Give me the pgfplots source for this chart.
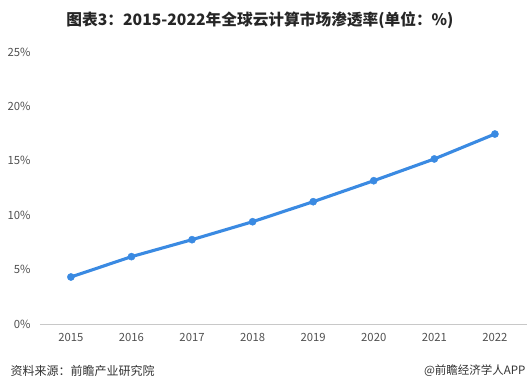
\documentclass[border=0pt]{standalone}
\usepackage{fontspec}
\usepackage{pgfplots}
\pgfplotsset{compat=1.18}
\setmainfont{Noto Sans CJK SC}
\definecolor{lineblue}{RGB}{58,138,226}
\definecolor{ticktext}{RGB}{80,80,80}
\definecolor{axisgray}{RGB}{200,200,200}
\begin{document}
\begin{tikzpicture}
\path[use as bounding box] (0pt,0pt) rectangle (532pt,390pt);
\begin{axis}[
  at={(40pt,66pt)}, anchor=south west,
  scale only axis, width=487pt, height=272pt,
  xmin=-0.51, xmax=7.53, ymin=0, ymax=25,
  axis x line*=bottom, axis y line*=left,
  x axis line style={axisgray, line width=0.8pt, -},
  y axis line style={draw=none},
  xtick={0,...,7},
  xticklabels={2015,2016,2017,2018,2019,2020,2021,2022},
  major tick length=0pt,
  ytick={0,5,10,15,20,25},
  yticklabels={0\%,5\%,10\%,15\%,20\%,25\%},
  tick label style={font=\fontsize{11.3}{13}\selectfont, text=ticktext},
  xticklabel style={yshift=-6pt},
  yticklabel style={xshift=-6pt},
  clip=false,
]
\addplot[lineblue, line width=3.1pt, mark=*, mark size=3.6pt, mark options={fill=lineblue, draw=lineblue, line width=0.4pt}]
coordinates {(0,4.32) (1,6.19) (2,7.75) (3,9.40) (4,11.24) (5,13.17) (6,15.17) (7,17.46)};
\end{axis}
\node[font=\fontsize{15.7}{18}\selectfont\bfseries, text=black!85] at (260pt,370pt) {图表3：2015-2022年全球云计算市场渗透率(单位：\%)};
\node[anchor=west, font=\fontsize{12}{14}\selectfont, text=black!80] at (7pt,19pt) {资料来源：前瞻产业研究院};
\node[anchor=east, font=\fontsize{11.5}{14}\selectfont, text=black!80] at (529pt,19pt) {@前瞻经济学人APP};
\end{tikzpicture}
\end{document}
